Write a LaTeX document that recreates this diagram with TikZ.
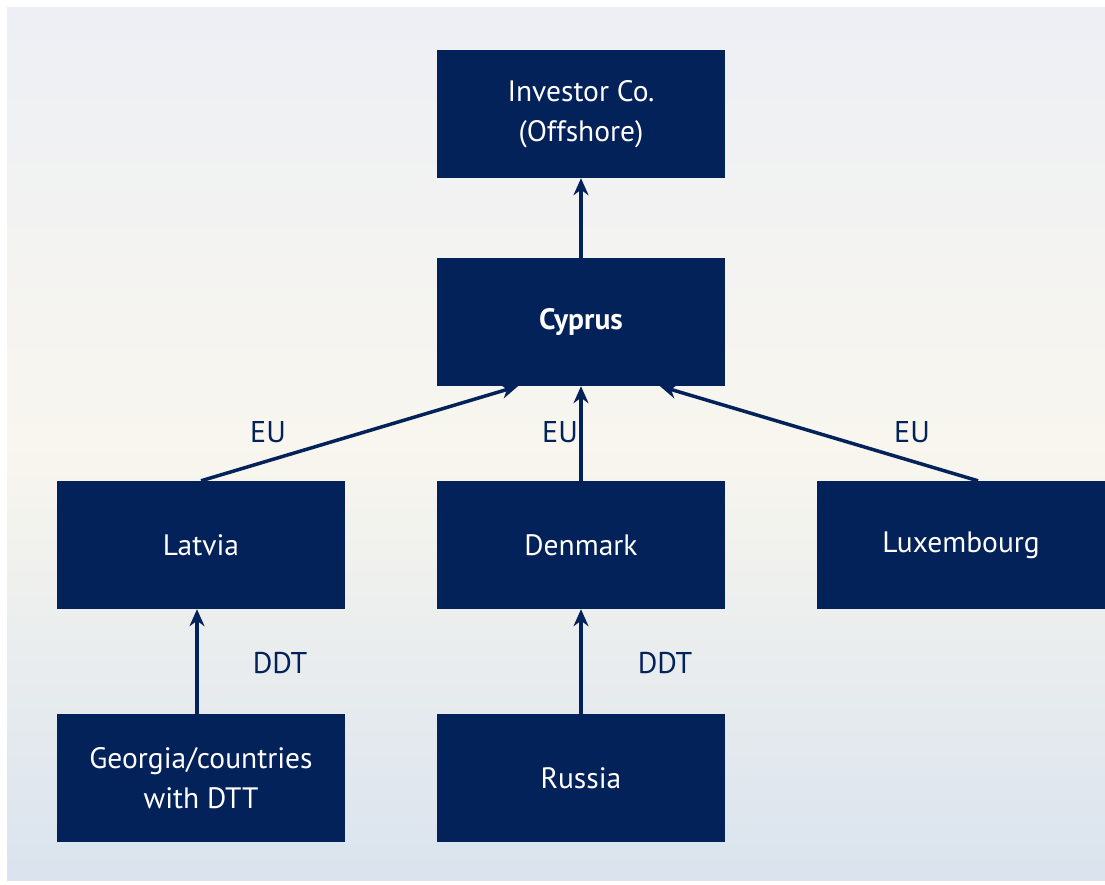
\documentclass[tikz,border=0pt]{standalone}
\usepackage{fontspec}
\setmainfont{PT Sans}
\usetikzlibrary{arrows.meta}

\definecolor{navy}{HTML}{04225A}
\definecolor{bgtop}{HTML}{EDEFF5}
\definecolor{bgmid}{HTML}{F8F6EE}
\definecolor{bgbot}{HTML}{DAE3EE}

\tikzset{
  box/.style={fill=navy, text=white, minimum width=288pt, minimum height=128pt,
    align=center, inner sep=0pt, font=\fontsize{29.5}{40}\selectfont},
  arr/.style={draw=navy, line width=3.5pt, -{Stealth[length=17pt,width=15pt]}},
  lab/.style={text=navy, font=\fontsize{30}{34}\selectfont}
}

\begin{document}
\begin{tikzpicture}[x=1pt,y=-1pt]
  \useasboundingbox (0,0) rectangle (1105,884);
  \fill[white] (0,0) rectangle (1105,884);
  \shade[top color=bgtop, bottom color=bgbot, middle color=bgmid] (7,7) rectangle (1105,880);

  % boxes
  \node[box] (investor) at (581,114) {Investor Co.\\(Offshore)};
  \node[box] (cyprus) at (581,322) {\textbf{Cyprus}};
  \node[box] (latvia) at (201,545) {Latvia};
  \node[box] (denmark) at (581,545) {Denmark};
  \node[box] (luxembourg) at (961,545) {Luxembourg};
  \node[box] (georgia) at (201,778) {Georgia/countries\\with DTT};
  \node[box] (russia) at (581,778) {Russia};

  % arrows
  \draw[arr] (cyprus) -- (investor);
  \draw[arr] (latvia.north) -- ([xshift=-63pt]cyprus.south);
  \draw[arr] (denmark) -- (cyprus);
  \draw[arr] ([xshift=17pt]luxembourg.north) -- ([xshift=79pt]cyprus.south);
  \draw[arr] ([xshift=-4pt]georgia.north) -- ([xshift=-4pt]latvia.south);
  \draw[arr] (russia) -- (denmark);

  % labels
  \node[lab] (eu1) at (268,432) {EU};
  \node[lab] (eu2) at (560,432) {EU};
  \node[lab] (eu3) at (912,432) {EU};
  \node[lab] (ddt1) at (280,663) {DDT};
  \node[lab] (ddt2) at (665,663) {DDT};
\end{tikzpicture}
\end{document}
